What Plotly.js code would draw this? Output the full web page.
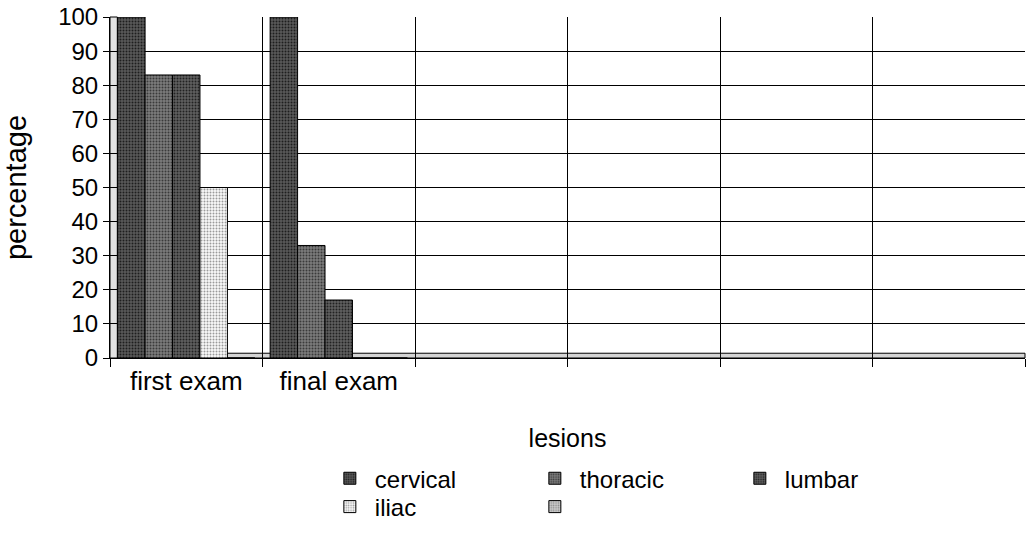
<!DOCTYPE html>
<html>
<head>
<meta charset="utf-8">
<script src="https://cdn.plot.ly/plotly-3.0.1.min.js"></script>
<style>
html,body{margin:0;padding:0;background:#fff;}
#chart{width:1028px;height:545px;}
</style>
</head>
<body>
<div id="chart"></div>
<script>
// Data
var categories = ["first exam", "final exam", " ", "  ", "   ", "    "];
var seriesNames = ["cervical", "thoracic", "lumbar", "iliac", " "];
var cervical = [100, 100, null, null, null, null];
var thoracic = [83, 33, null, null, null, null];
var lumbar = [83, 17, null, null, null, null];
var iliac = [50, 0, null, null, null, null];
var fifth = [0, 0, null, null, null, null];
var yTicks = [0, 10, 20, 30, 40, 50, 60, 70, 80, 90, 100];

var FONT = "Liberation Sans, Arial, sans-serif";
var styles = [
  {bg: "#5a5a5a", fg: "#1e1e1e", shape: ".", legend: "legend"},
  {bg: "#7c7c7c", fg: "#3a3a3a", shape: ".", legend: "legend"},
  {bg: "#606060", fg: "#222222", shape: ".", legend: "legend"},
  {bg: "#fafafa", fg: "#9a9a9a", shape: ".", legend: "legend2"},
  {bg: "#cdcdcd", fg: "#8a8a8a", shape: ".", legend: "legend2"}
];
var values = [cervical, thoracic, lumbar, iliac, fifth];

var traces = values.map(function (v, i) {
  var s = styles[i];
  return {
    type: "bar",
    x: categories,
    y: v,
    name: seriesNames[i],
    legend: s.legend,
    marker: {
      color: s.bg,
      line: {color: "#000", width: 1},
      pattern: {shape: s.shape, fgcolor: s.fg, bgcolor: s.bg, size: 3, solidity: 0.35}
    },
    hoverinfo: "x+y+name"
  };
});

var layout = {
  width: 1028,
  height: 545,
  margin: {l: 110, r: 3, t: 17, b: 187},
  paper_bgcolor: "#fff",
  plot_bgcolor: "#fff",
  font: {family: FONT, size: 24, color: "#000"},
  barmode: "group",
  bargap: 0.1,
  bargroupgap: 0,
  xaxis: {
    type: "category",
    categoryorder: "array",
    categoryarray: categories,
    tickson: "boundaries",
    ticks: "outside",
    ticklen: 8,
    tickcolor: "#000",
    showgrid: true,
    gridcolor: "#000",
    gridwidth: 1,
    showline: true,
    linecolor: "#000",
    linewidth: 1,
    tickfont: {family: FONT, size: 26, color: "#000"},
    title: {text: "lesions", font: {family: FONT, size: 25, color: "#000"}, standoff: 34}
  },
  yaxis: {
    range: [0, 100],
    tickvals: yTicks,
    ticks: "outside",
    ticklen: 6,
    tickcolor: "#000",
    showgrid: true,
    gridcolor: "#000",
    gridwidth: 1,
    showline: true,
    linecolor: "#000",
    linewidth: 1,
    zeroline: false,
    tickfont: {family: FONT, size: 24, color: "#000"},
    title: {text: "percentage", font: {family: FONT, size: 29, color: "#000"}, standoff: 26}
  },
  showlegend: true,
  legend: {
    orientation: "h",
    xref: "container", yref: "container",
    x: 0.316, y: 0.163, xanchor: "left", yanchor: "top",
    font: {family: FONT, size: 24, color: "#000"},
    entrywidth: 150,
    itemwidth: 40,
    tracegroupgap: 0,
    bgcolor: "rgba(0,0,0,0)"
  },
  legend2: {
    orientation: "h",
    xref: "container", yref: "container",
    x: 0.316, y: 0.111, xanchor: "left", yanchor: "top",
    font: {family: FONT, size: 24, color: "#000"},
    entrywidth: 150,
    itemwidth: 40,
    tracegroupgap: 0,
    bgcolor: "rgba(0,0,0,0)"
  },
  shapes: [
    {type: "rect", xref: "paper", yref: "paper", x0: 0, x1: 1, y0: 0, y1: 0.014,
     fillcolor: "#d4d4d4", line: {color: "#000", width: 1}, layer: "below"},
    {type: "rect", xref: "paper", yref: "paper", x0: 0, x1: 0.008, y0: 0, y1: 1,
     fillcolor: "#e2e2e2", line: {color: "#000", width: 1}, layer: "below"}
  ]
};

Plotly.newPlot("chart", traces, layout, {displayModeBar: false, staticPlot: true});
</script>
</body>
</html>
